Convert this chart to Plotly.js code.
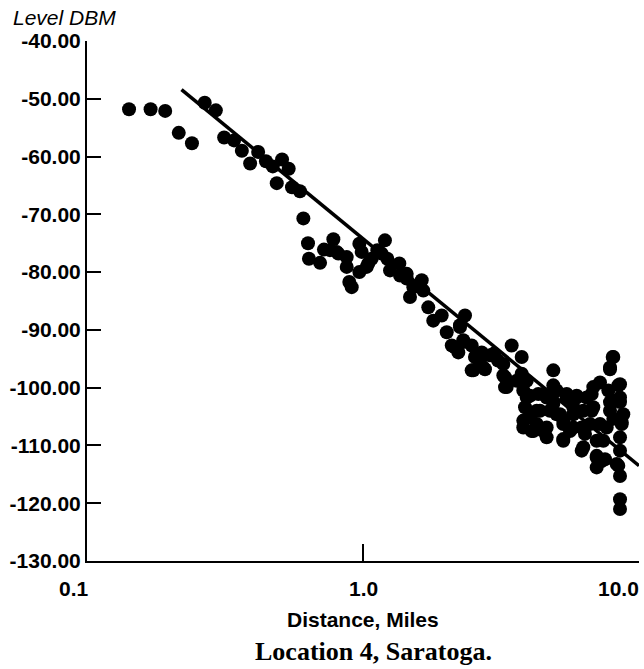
<!DOCTYPE html>
<html>
<head>
<meta charset="utf-8">
<script src="https://cdn.plot.ly/plotly-3.0.1.min.js"></script>
<style>
  html, body { margin: 0; padding: 0; background: #fff; }
  #chart { width: 644px; height: 669px; }
</style>
</head>
<body>
<div id="chart"></div>
<script>
// Measured points: distance (miles) and signal level (dBm)
const distance = [
  0.142, 0.170, 0.192, 0.215, 0.240, 0.267, 0.293, 0.314, 0.341, 0.364,
  0.390, 0.417, 0.445, 0.471, 0.509, 0.538, 0.487, 0.553, 0.591, 0.608,
  0.632, 0.637, 0.699, 0.722, 0.781, 0.803, 0.873, 0.873, 0.892, 0.910,
  0.970, 0.989, 0.970, 1.045, 1.075, 1.127, 1.201, 1.225, 1.253, 1.354,
  1.362, 1.440, 1.480, 1.522, 1.632, 1.654, 1.724, 1.797, 1.928, 2.011,
  2.097, 2.246, 2.342, 2.309, 2.215, 2.476, 2.545, 2.476, 2.767, 2.885,
  2.692, 3.224, 3.457, 3.758, 3.224, 3.316, 3.605, 3.809, 3.864, 4.893,
  8.030, 7.852, 3.809, 4.140, 4.501, 4.893, 4.828, 4.378, 4.629, 5.031,
  5.470, 5.946, 5.781, 5.317, 5.317, 5.781, 6.199, 6.372, 6.739, 7.222,
  6.739, 7.222, 7.025, 7.025, 7.530, 7.852, 8.535, 8.535, 8.656, 8.535,
  8.535, 8.414, 8.535, 8.535, 8.535, 7.743, 8.071, 7.425, 2.154, 2.309,
  2.510, 2.729, 3.270, 3.270, 3.758, 3.919, 4.029, 4.317, 4.260, 4.629,
  5.031, 4.893, 4.758, 5.172, 4.260, 5.317, 5.470, 5.946, 5.781, 6.283,
  6.463, 6.830, 6.830, 6.645, 6.199, 5.623, 5.317, 6.283, 7.025, 7.025,
  7.638, 7.852, 8.071, 8.414, 8.535, 8.772, 8.656, 8.071, 7.852, 3.809,
  4.086, 4.501, 4.629, 7.326, 8.302, 0.759, 0.814, 1.031, 1.169, 1.440,
  2.246, 2.983, 3.084, 2.654, 3.919, 4.029
];
const level = [
  -51.8, -51.8, -52.1, -55.9, -57.7, -50.7, -52.0, -56.7, -57.2, -59.0,
  -61.2, -59.2, -60.8, -61.7, -60.5, -62.1, -64.6, -65.3, -66.0, -70.7,
  -75.0, -77.7, -78.4, -76.1, -74.3, -76.5, -77.4, -79.1, -81.7, -82.6,
  -75.1, -76.5, -80.0, -78.5, -77.7, -76.2, -74.5, -77.7, -79.7, -78.5,
  -80.6, -81.1, -84.3, -82.6, -81.4, -83.2, -86.1, -88.4, -87.5, -90.4,
  -92.7, -89.2, -87.5, -91.8, -93.9, -92.7, -94.7, -97.0, -96.8, -94.4,
  -93.9, -95.9, -92.7, -94.7, -97.9, -99.9, -98.8, -100.5, -103.4, -97.0,
  -94.7, -96.8, -105.7, -107.5, -101.1, -99.6, -102.0, -104.0, -106.9, -104.6,
  -101.1, -101.4, -103.4, -105.7, -108.9, -106.9, -110.9, -108.0, -101.1, -99.1,
  -104.0, -106.3, -111.8, -113.8, -112.4, -102.5, -99.4, -102.5, -106.0, -108.6,
  -110.9, -113.5, -115.3, -119.3, -121.0, -100.5, -105.4, -109.2, -93.0, -92.1,
  -97.0, -96.5, -98.2, -99.9, -97.6, -101.7, -105.1, -101.1, -104.0, -101.7,
  -100.5, -102.8, -104.0, -104.6, -106.3, -106.3, -101.7, -101.7, -104.6, -104.0,
  -101.7, -99.9, -103.4, -106.3, -106.9, -107.5, -109.2, -110.3, -109.2, -112.1,
  -106.9, -104.0, -102.3, -99.6, -101.7, -104.6, -106.3, -94.7, -96.5, -106.9,
  -107.5, -107.5, -108.6, -112.7, -113.2, -76.2, -76.8, -79.1, -76.8, -80.3,
  -89.5, -94.1, -95.3, -95.7, -98.8, -101.4
];
// Fitted regression line (end points)
const fitDistance = [0.22, 10];
const fitLevel = [-48.4, -113.5];

// Axis ticks
const xTickVals = [0.1, 1, 10];
const xTickText = ['0.1', '1.0', '10.0'];
const yTickVals = [-40, -50, -60, -70, -80, -90, -100, -110, -120, -130];
const yTickText = ['-40.00', '-50.00', '-60.00', '-70.00', '-80.00', '-90.00',
                   '-100.00', '-110.00', '-120.00', '-130.00'];

const sans = 'Liberation Sans, Arial, Helvetica, sans-serif';
const serif = 'Liberation Serif, Times New Roman, serif';

const traces = [
  {
    x: distance, y: level, type: 'scatter', mode: 'markers',
    marker: { color: '#000', size: 14, line: { width: 0 } },
    hoverinfo: 'skip', showlegend: false
  },
  {
    x: fitDistance, y: fitLevel, type: 'scatter', mode: 'lines',
    line: { color: '#000', width: 3.5 },
    hoverinfo: 'skip', showlegend: false
  }
];

const xShift = [-13, 0, 2];
const xAnchor = ['center', 'center', 'right'];
const annotations = xTickVals.map((v, i) => ({
  x: Math.log10(v), xref: 'x', y: 0, yref: 'paper',
  xanchor: xAnchor[i], yanchor: 'top', xshift: xShift[i], yshift: -14,
  text: xTickText[i], showarrow: false,
  font: { family: sans, size: 21, color: '#000', weight: 700 }
}));
annotations.push({
  x: 0.5, xref: 'paper', y: 0, yref: 'paper', yanchor: 'top', yshift: -45,
  text: 'Distance, Miles', showarrow: false,
  font: { family: sans, size: 21, color: '#000', weight: 700 }
});
annotations.push({
  x: (373 - 87) / 552, xref: 'paper', y: 0, yref: 'paper', yanchor: 'top', yshift: -74,
  xanchor: 'center',
  text: 'Location 4, Saratoga.', showarrow: false,
  font: { family: serif, size: 26, color: '#000', weight: 700 }
});

const layout = {
  width: 644, height: 669,
  margin: { l: 87, r: 5, t: 41, b: 108 },
  paper_bgcolor: '#fff', plot_bgcolor: '#fff',
  title: {
    text: '<i>Level DBM</i>', xref: 'container', yref: 'container',
    x: 13 / 644, xanchor: 'left', y: 1 - 18 / 669, yanchor: 'middle',
    font: { family: sans, size: 21, color: '#000' }
  },
  xaxis: {
    type: 'log', range: [-1, 1], showgrid: false, zeroline: false,
    showline: true, linecolor: '#000', linewidth: 2,
    ticks: 'inside', tickvals: xTickVals, ticklen: 17, tickwidth: 2, tickcolor: '#000',
    showticklabels: false
  },
  yaxis: {
    range: [-130, -40], showgrid: false, zeroline: false,
    showline: true, linecolor: '#000', linewidth: 2,
    ticks: 'inside', tickmode: 'array', tickvals: yTickVals, ticktext: yTickText,
    ticklen: 14, tickwidth: 2, tickcolor: '#000',
    tickfont: { family: sans, size: 21, color: '#000', weight: 700 }
  },
  annotations: annotations,
  showlegend: false
};

Plotly.newPlot('chart', traces, layout, { staticPlot: true, displayModeBar: false });
</script>
</body>
</html>
